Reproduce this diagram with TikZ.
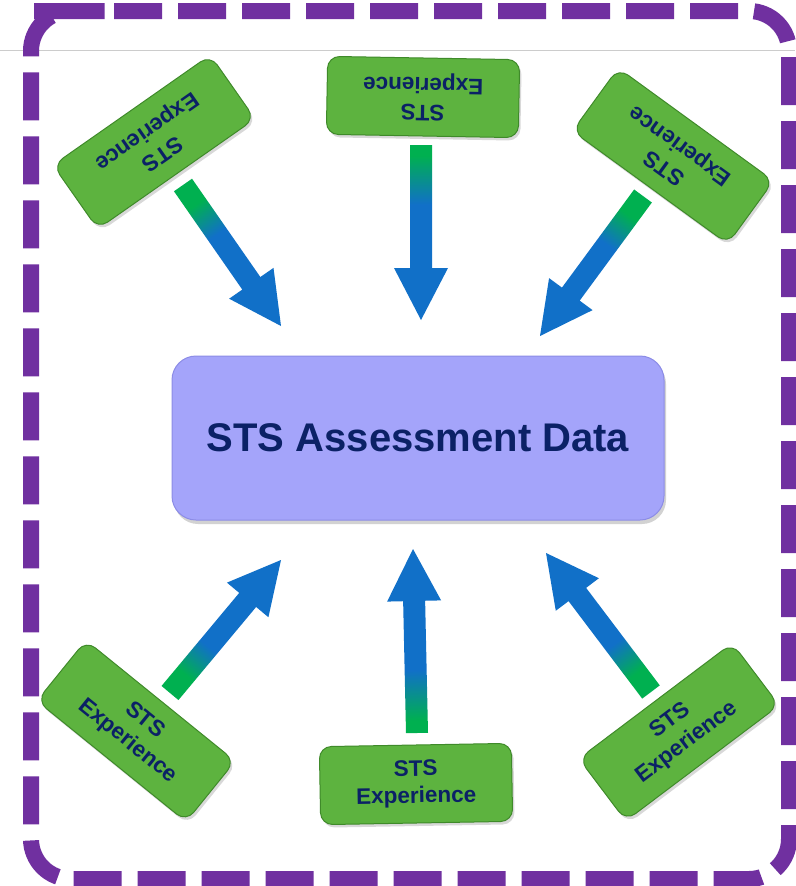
\documentclass[tikz,border=0pt]{standalone}
\usepackage{fontspec}
\setmainfont{Liberation Sans}
\usetikzlibrary{calc,shadows}

\definecolor{framepurple}{HTML}{7030A0}
\definecolor{boxgreen}{HTML}{5DB33F}
\definecolor{boxedge}{HTML}{3F8A2A}
\definecolor{hubfill}{HTML}{A4A4FA}
\definecolor{hubedge}{HTML}{8C8CE6}
\definecolor{textnavy}{HTML}{0B2166}
\definecolor{arrowgreen}{HTML}{00B050}
\definecolor{arrowblue}{HTML}{1170C8}

\pgfdeclareverticalshading{arrowfade}{100bp}{color(0bp)=(arrowgreen); color(28bp)=(arrowgreen); color(42bp)=(arrowblue); color(100bp)=(arrowblue)}

\tikzstyle{stsbox} = [rectangle, rounded corners=12pt, fill=boxgreen, draw=boxedge, line width=1pt, minimum width=192pt, minimum height=78pt, align=center, text=textnavy, font=\bfseries\fontsize{22.5}{27}\selectfont, drop shadow={opacity=0.3, shadow xshift=2pt, shadow yshift=-3pt}]
\tikzstyle{hub} = [rectangle, rounded corners=24pt, fill=hubfill, draw=hubedge, line width=1pt, minimum width=492pt, minimum height=164pt, text=textnavy, font=\bfseries\fontsize{40}{48}\selectfont, drop shadow={opacity=0.35, shadow xshift=2pt, shadow yshift=-4pt}]

% shaded arrow: name, tail, tip
\newcommand{\gradarrow}[3]{%
  \pgfmathanglebetweenpoints{\pgfpointanchor{#2}{center}}{\pgfpointanchor{#3}{center}}%
  \pgfmathsetmacro{\shadeangle}{\pgfmathresult-90}%
  \coordinate (#1-b) at ($(#3)!52pt!(#2)$);
  \shade[shading=arrowfade, shading angle=\shadeangle]
    ($(#2)!11pt!90:(#3)$) -- ($(#1-b)!11pt!90:(#3)$) -- ($(#1-b)!27pt!90:(#3)$)
    -- (#3) -- ($(#1-b)!27pt!-90:(#3)$) -- ($(#1-b)!11pt!-90:(#3)$)
    -- ($(#2)!11pt!-90:(#3)$) -- cycle;
}

\begin{document}
\begin{tikzpicture}[x=1pt, y=-1pt]
	\useasboundingbox (0,0) rectangle (795,886);
	\fill[white] (0,0) rectangle (795,886);
	\draw[black!20, line width=1pt] (0,50) -- (795,50);
	\draw[framepurple, line width=16pt, dash pattern=on 48pt off 16pt, rounded corners=40pt]
		(74,11) -- (789,11) -- (789,879) -- (31,879) -- (31,11) -- cycle;

	\node[hub] (hub) at (418,438) {STS Assessment Data};

	\node[stsbox, rotate=215] (expTL) at (154,142) {STS\\Experience};
	\node[stsbox, rotate=179] (expTC) at (423,97) {STS\\Experience};
	\node[stsbox, rotate=144] (expTR) at (673,156) {STS\\Experience};
	\node[stsbox, rotate=-39] (expBL) at (136,731) {STS\\Experience};
	\node[stsbox, rotate=1] (expBC) at (416,784) {STS\\Experience};
	\node[stsbox, rotate=37] (expBR) at (679,732) {STS\\Experience};

	% arrow ends
	\coordinate (tailTL) at (183,185);  \coordinate (tipTL) at (281,326);
	\coordinate (tailTC) at (421,145);  \coordinate (tipTC) at (421,320);
	\coordinate (tailTR) at (643,196);  \coordinate (tipTR) at (540,336);
	\coordinate (tailBL) at (170,693);  \coordinate (tipBL) at (281,560);
	\coordinate (tailBC) at (417,733);  \coordinate (tipBC) at (413,549);
	\coordinate (tailBR) at (651,692);  \coordinate (tipBR) at (546,553);

	\gradarrow{aTL}{tailTL}{tipTL}
	\gradarrow{aTC}{tailTC}{tipTC}
	\gradarrow{aTR}{tailTR}{tipTR}
	\gradarrow{aBL}{tailBL}{tipBL}
	\gradarrow{aBC}{tailBC}{tipBC}
	\gradarrow{aBR}{tailBR}{tipBR}
\end{tikzpicture}
\end{document}
